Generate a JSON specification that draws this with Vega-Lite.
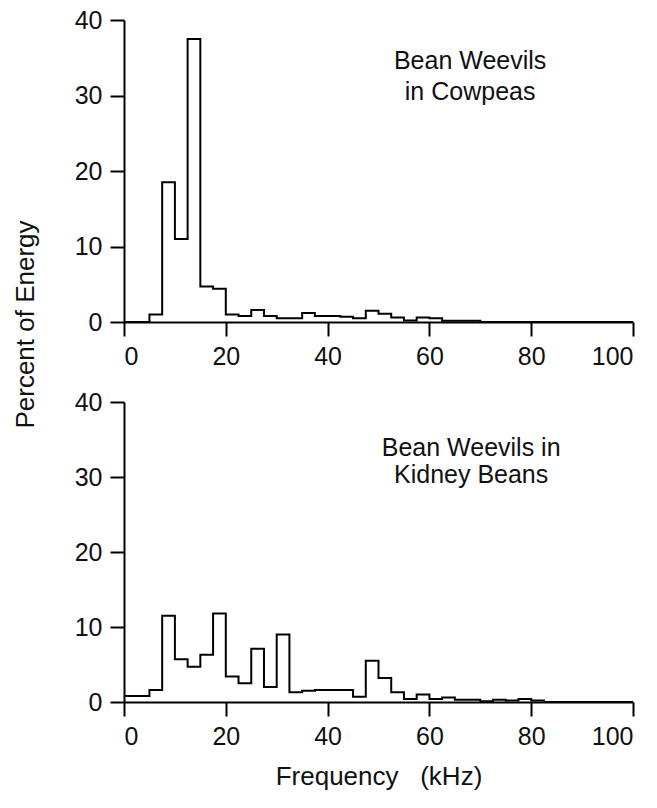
{
  "$schema": "https://vega.github.io/schema/vega-lite/v6.json",
  "padding": {"left": 12, "top": 8, "right": 10, "bottom": 10},
  "background": "white",
  "spacing": 80,
  "bounds": "flush",
  "datasets": {
    "cowpeas": [
      {"freq": 0, "pct": 0}, {"freq": 2.5, "pct": 0}, {"freq": 5, "pct": 1.0},
      {"freq": 7.5, "pct": 18.5}, {"freq": 10, "pct": 11.0}, {"freq": 12.5, "pct": 37.5},
      {"freq": 15, "pct": 4.7}, {"freq": 17.5, "pct": 4.4}, {"freq": 20, "pct": 1.0},
      {"freq": 22.5, "pct": 0.8}, {"freq": 25, "pct": 1.6}, {"freq": 27.5, "pct": 0.8},
      {"freq": 30, "pct": 0.5}, {"freq": 32.5, "pct": 0.5}, {"freq": 35, "pct": 1.2},
      {"freq": 37.5, "pct": 0.8}, {"freq": 40, "pct": 0.8}, {"freq": 42.5, "pct": 0.7},
      {"freq": 45, "pct": 0.5}, {"freq": 47.5, "pct": 1.5}, {"freq": 50, "pct": 1.1},
      {"freq": 52.5, "pct": 0.6}, {"freq": 55, "pct": 0.2}, {"freq": 57.5, "pct": 0.6},
      {"freq": 60, "pct": 0.5}, {"freq": 62.5, "pct": 0.15}, {"freq": 65, "pct": 0.15},
      {"freq": 67.5, "pct": 0.15}, {"freq": 70, "pct": 0}, {"freq": 100, "pct": 0}
    ],
    "kidney": [
      {"freq": 0, "pct": 0.8}, {"freq": 2.5, "pct": 0.8}, {"freq": 5, "pct": 1.6},
      {"freq": 7.5, "pct": 11.5}, {"freq": 10, "pct": 5.7}, {"freq": 12.5, "pct": 4.7},
      {"freq": 15, "pct": 6.3}, {"freq": 17.5, "pct": 11.8}, {"freq": 20, "pct": 3.4},
      {"freq": 22.5, "pct": 2.5}, {"freq": 25, "pct": 7.1}, {"freq": 27.5, "pct": 2.0},
      {"freq": 30, "pct": 9.0}, {"freq": 32.5, "pct": 1.3}, {"freq": 35, "pct": 1.5},
      {"freq": 37.5, "pct": 1.6}, {"freq": 40, "pct": 1.6}, {"freq": 42.5, "pct": 1.6},
      {"freq": 45, "pct": 0.7}, {"freq": 47.5, "pct": 5.5}, {"freq": 50, "pct": 3.2},
      {"freq": 52.5, "pct": 1.3}, {"freq": 55, "pct": 0.4}, {"freq": 57.5, "pct": 1.0},
      {"freq": 60, "pct": 0.4}, {"freq": 62.5, "pct": 0.6}, {"freq": 65, "pct": 0.3},
      {"freq": 67.5, "pct": 0.3}, {"freq": 70, "pct": 0.1}, {"freq": 72.5, "pct": 0.3},
      {"freq": 75, "pct": 0.2}, {"freq": 77.5, "pct": 0.4}, {"freq": 80, "pct": 0.2},
      {"freq": 82.5, "pct": 0}, {"freq": 100, "pct": 0}
    ]
  },
  "config": {
    "view": {"stroke": null},
    "font": "Liberation Sans",
    "axis": {
      "grid": false,
      "domainColor": "black",
      "domainWidth": 2,
      "tickColor": "black",
      "tickWidth": 2,
      "tickSize": 14,
      "labelFont": "Liberation Sans",
      "labelFontSize": 25,
      "labelColor": "#111",
      "labelPadding": 8,
      "titleFont": "Liberation Sans",
      "titleFontSize": 26,
      "titleFontWeight": "normal",
      "titleColor": "#111"
    }
  },
  "vconcat": [
    {
      "width": 509,
      "height": 302,
      "layer": [
        {
          "data": {"name": "cowpeas"},
          "mark": {"type": "line", "interpolate": "step-after", "color": "black", "strokeWidth": 2},
          "encoding": {
            "x": {"field": "freq", "type": "quantitative", "scale": {"domain": [0, 100], "nice": false},
                  "axis": {"values": [0, 20, 40, 60, 80, 100], "title": null}},
            "y": {"field": "pct", "type": "quantitative", "scale": {"domain": [0, 40], "nice": false},
                  "axis": {"values": [0, 10, 20, 30, 40], "title": "Percent of Energy",
                           "titleX": -86, "titleY": 304, "titleAngle": -90, "titleAlign": "center", "titleBaseline": "bottom"}}
          }
        },
        {
          "data": {"values": [{}]},
          "mark": {"type": "text", "text": ["Bean Weevils", "in Cowpeas"], "align": "center", "baseline": "alphabetic",
                   "fontSize": 25, "lineHeight": 31, "color": "#111", "font": "Liberation Sans"},
          "encoding": {"x": {"datum": 68, "type": "quantitative"}, "y": {"datum": 33.5, "type": "quantitative"}}
        }
      ]
    },
    {
      "width": 509,
      "height": 300,
      "layer": [
        {
          "data": {"name": "kidney"},
          "mark": {"type": "line", "interpolate": "step-after", "color": "black", "strokeWidth": 2},
          "encoding": {
            "x": {"field": "freq", "type": "quantitative", "scale": {"domain": [0, 100], "nice": false},
                  "axis": {"values": [0, 20, 40, 60, 80, 100], "title": "Frequency\u00a0\u00a0\u00a0(kHz)", "titlePadding": 14, "titleFontSize": 26}},
            "y": {"field": "pct", "type": "quantitative", "scale": {"domain": [0, 40], "nice": false},
                  "axis": {"values": [0, 10, 20, 30, 40], "title": null}}
          }
        },
        {
          "data": {"values": [{}]},
          "mark": {"type": "text", "text": ["Bean Weevils in", "Kidney Beans"], "align": "center", "baseline": "alphabetic",
                   "fontSize": 25, "lineHeight": 27, "color": "#111", "font": "Liberation Sans"},
          "encoding": {"x": {"datum": 68.2, "type": "quantitative"}, "y": {"datum": 32.8, "type": "quantitative"}}
        }
      ]
    }
  ]
}
